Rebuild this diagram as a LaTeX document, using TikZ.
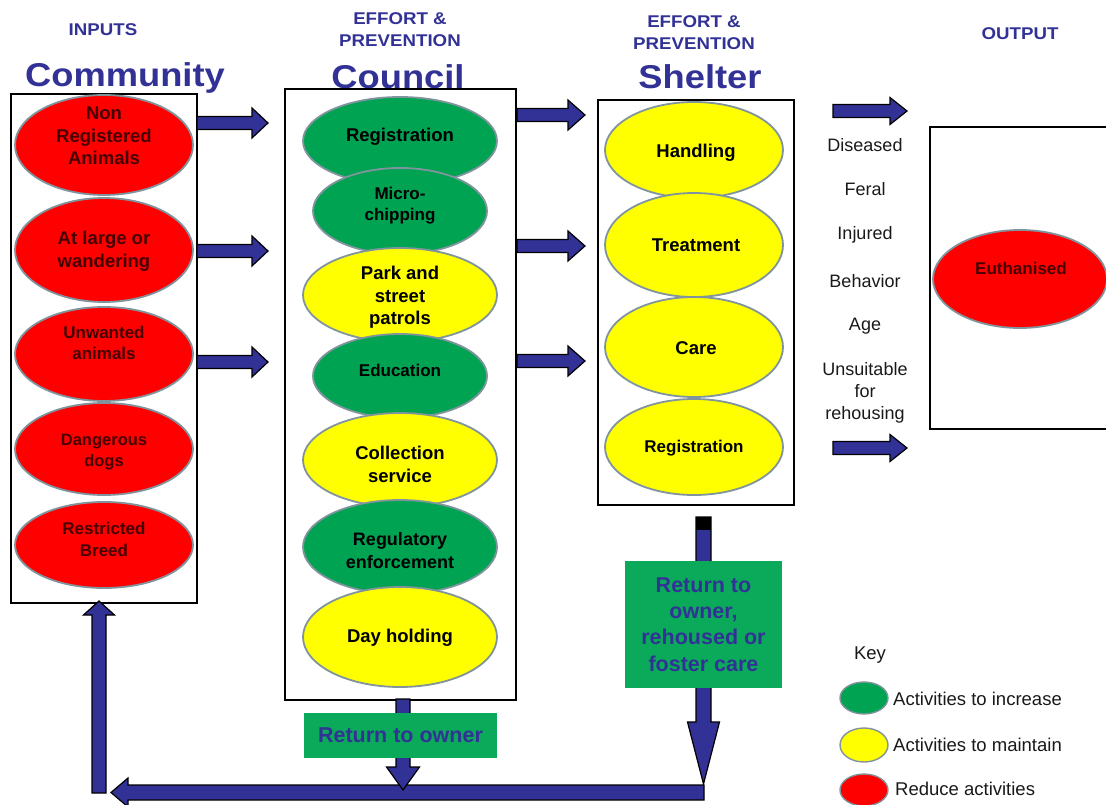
\documentclass[tikz,border=0pt]{standalone}
\usepackage{fontspec}
\setmainfont{Liberation Sans}
\newfontfamily\hdrfont[FakeStretch=1.1]{Liberation Sans}
\usetikzlibrary{shapes.geometric,calc}
\definecolor{navyA}{RGB}{50,50,150}
\definecolor{ered}{RGB}{255,0,0}
\definecolor{egreen}{RGB}{0,163,82}
\definecolor{eyellow}{RGB}{255,255,0}
\definecolor{eborder}{RGB}{128,148,158}
\definecolor{boxgreen}{RGB}{10,170,90}
\definecolor{darkred}{RGB}{70,0,0}
\definecolor{txtgray}{RGB}{25,25,25}
% fat block arrows between named coordinates
\newcommand\fatR[5]{\draw[fatarr] let \p1=(#1), \p2=(#2) in
  (\x1,\y1+#3) -- (\x2-#5,\y1+#3) -- (\x2-#5,\y1+#4) -- (\x2,\y1) -- (\x2-#5,\y1-#4) -- (\x2-#5,\y1-#3) -- (\x1,\y1-#3) -- cycle;}
\newcommand\fatL[5]{\draw[fatarr] let \p1=(#1), \p2=(#2) in
  (\x1,\y1+#3) -- (\x2+#5,\y1+#3) -- (\x2+#5,\y1+#4) -- (\x2,\y1) -- (\x2+#5,\y1-#4) -- (\x2+#5,\y1-#3) -- (\x1,\y1-#3) -- cycle;}
\newcommand\fatD[5]{\draw[fatarr] let \p1=(#1), \p2=(#2) in
  (\x1-#3,\y1) -- (\x1-#3,\y2+#5) -- (\x1-#4,\y2+#5) -- (\x1,\y2) -- (\x1+#4,\y2+#5) -- (\x1+#3,\y2+#5) -- (\x1+#3,\y1) -- cycle;}
\newcommand\fatU[5]{\draw[fatarr] let \p1=(#1), \p2=(#2) in
  (\x1-#3,\y1) -- (\x1-#3,\y2-#5) -- (\x1-#4,\y2-#5) -- (\x1,\y2) -- (\x1+#4,\y2-#5) -- (\x1+#3,\y2-#5) -- (\x1+#3,\y1) -- cycle;}
\tikzset{
 ell/.style={ellipse, draw=eborder, line width=1.8pt, inner sep=0pt},
 redE/.style={ell, fill=ered},
 grnE/.style={ell, fill=egreen},
 yelE/.style={ell, fill=eyellow},
 frame/.style={draw=black, line width=2.2pt, fill=white, inner sep=0pt, anchor=north west},
 fatarr/.style={fill=navyA, draw=black, line width=1.2pt, line join=miter},
 hdr/.style={text=navyA, font=\hdrfont\bfseries\fontsize{17}{22}\selectfont, align=center, inner sep=0pt},
 big/.style={text=navyA, font=\hdrfont\bfseries\fontsize{33}{36}\selectfont, anchor=base, inner sep=0pt},
 ctext/.style={font=\bfseries\fontsize{18.5}{22.5}\selectfont, align=center, text=black, inner sep=0pt},
 rtext/.style={ctext, text=darkred},
 otext/.style={font=\fontsize{18}{22}\selectfont, align=center, text=txtgray, inner sep=0pt},
 retbox/.style={fill=boxgreen, inner sep=0pt, text=navyA, font=\bfseries\fontsize{21.5}{26.3}\selectfont, align=center},
 keytext/.style={font=\fontsize{18.5}{22}\selectfont, anchor=west, inner sep=0pt, text=txtgray}
}
\begin{document}
\begin{tikzpicture}[x=1pt,y=-1pt]
\useasboundingbox (0,0) rectangle (1106,805);

% headers
\node[hdr] (hin) at (103,30) {INPUTS};
\node[hdr] (hcou) at (400,30) {EFFORT \&\\PREVENTION};
\node[hdr] (hshe) at (694,32.5) {EFFORT \&\\PREVENTION};
\node[hdr] (hout) at (1020,34) {OUTPUT};
\node[big] (tcom) at (125,87) {Community};
\node[big] (tcou) at (398,88.5) {Council};
\node[big] (tshe) at (700,89) {Shelter};

% frames
\node[frame, minimum width=186, minimum height=509] (comm) at (10,93) {};
\node[frame, minimum width=231, minimum height=611] (coun) at (284,88) {};
\node[frame, minimum width=196, minimum height=405] (shel) at (597,99) {};
\draw[draw=black, line width=2.2pt] (1106,127) -| (930,429) -- (1106,429);

% community ellipses
\node[redE, minimum width=178, minimum height=100] (c1) at (104,145) {};
\node[rtext] at (104,136) {Non\\Registered\\Animals};
\node[redE, minimum width=178, minimum height=104] (c2) at (104,250) {};
\node[rtext, font=\bfseries\fontsize{18.5}{23}\selectfont] at (104,251) {At large or\\wandering};
\node[redE, minimum width=178, minimum height=94] (c3) at (104,354) {};
\node[rtext, font=\bfseries\fontsize{17}{21}\selectfont] at (104,342.5) {Unwanted\\animals};
\node[redE, minimum width=178, minimum height=92] (c4) at (104,449) {};
\node[rtext, font=\bfseries\fontsize{16.5}{21}\selectfont] at (104,452) {Dangerous\\dogs};
\node[redE, minimum width=178, minimum height=86] (c5) at (104,545) {};
\node[rtext, font=\bfseries\fontsize{17}{22}\selectfont] at (104,539) {Restricted\\Breed};

% council ellipses
\node[grnE, minimum width=194, minimum height=88] (k1) at (400,141) {};
\node[ctext] at (400,137) {Registration};
\node[grnE, minimum width=174, minimum height=86] (k2) at (400,211) {};
\node[ctext, font=\bfseries\fontsize{17}{21}\selectfont] at (400,206) {Micro-\\chipping};
\node[yelE, minimum width=194, minimum height=94] (k3) at (400,295) {};
\node[ctext] at (400,297.5) {Park and\\street\\patrols};
\node[grnE, minimum width=174, minimum height=84] (k4) at (400,376) {};
\node[ctext, font=\bfseries\fontsize{17}{20}\selectfont] at (400,370) {Education};
\node[yelE, minimum width=194, minimum height=94] (k5) at (400,460) {};
\node[ctext, font=\bfseries\fontsize{18.5}{23}\selectfont] at (400,464) {Collection\\service};
\node[grnE, minimum width=194, minimum height=94] (k6) at (400,547) {};
\node[ctext, font=\bfseries\fontsize{18}{23}\selectfont] at (400,551) {Regulatory\\enforcement};
\node[yelE, minimum width=194, minimum height=100] (k7) at (400,637) {};
\node[ctext] at (400,638) {Day holding};

% shelter ellipses
\node[yelE, minimum width=178, minimum height=96] (s1) at (694,150) {};
\node[ctext] at (696,153) {Handling};
\node[yelE, minimum width=178, minimum height=104] (s2) at (694,245) {};
\node[ctext] at (696,245) {Treatment};
\node[yelE, minimum width=178, minimum height=100] (s3) at (694,347) {};
\node[ctext] at (696,348) {Care};
\node[yelE, minimum width=178, minimum height=96] (s4) at (694,447) {};
\node[ctext, font=\bfseries\fontsize{17}{20}\selectfont] at (694,448) {Registration};

% output
\node[redE, minimum width=174, minimum height=98] (eu) at (1020,279) {};
\node[rtext, font=\bfseries\fontsize{17}{20}\selectfont] at (1021,268) {Euthanised};
\node[otext] (o1) at (865,145) {Diseased};
\node[otext] (o2) at (865,189) {Feral};
\node[otext] (o3) at (865,235) {Injured};
\node[otext] (o4) at (865,281) {Behavior};
\node[otext] (o5) at (865,326) {Age};
\node[otext] (o6) at (865,392.5) {Unsuitable\\for\\rehousing};

% horizontal arrows
\coordinate (a1s) at (197,123); \coordinate (a1e) at (268,123);
\coordinate (a2s) at (197,251); \coordinate (a2e) at (268,251);
\coordinate (a3s) at (197,362); \coordinate (a3e) at (268,362);
\coordinate (b1s) at (517,115); \coordinate (b1e) at (585,115);
\coordinate (b2s) at (517,246); \coordinate (b2e) at (585,246);
\coordinate (b3s) at (517,361); \coordinate (b3e) at (585,361);
\coordinate (o1s) at (833,111); \coordinate (o1e) at (907,111);
\coordinate (o2s) at (833,448); \coordinate (o2e) at (907,448);
\fatR{a1s}{a1e}{6.5}{15}{16}
\fatR{a2s}{a2e}{6.5}{15}{16}
\fatR{a3s}{a3e}{6.5}{15}{16}
\fatR{b1s}{b1e}{6.5}{15}{17}
\fatR{b2s}{b2e}{6.5}{15}{17}
\fatR{b3s}{b3e}{6.5}{15}{17}
\fatR{o1s}{o1e}{6.5}{13.5}{17}
\fatR{o2s}{o2e}{6.5}{13.5}{17}

% return loop
\coordinate (bars) at (704,792.5); \coordinate (bare) at (111,792.5);
\coordinate (ups) at (99,793); \coordinate (upe) at (99,601);
\coordinate (cds) at (403,699); \coordinate (cde) at (403,790);
\coordinate (sds) at (703.5,517); \coordinate (sde) at (703.5,784);
\fatL{bars}{bare}{7.5}{14.5}{17}
\fatU{ups}{upe}{7}{15.5}{14}
\fatD{cds}{cde}{7}{16.5}{23}
\node[retbox, minimum width=193, minimum height=45] (ret1) at (400.5,735.5) {Return to owner};
\fatD{sds}{sde}{7.5}{16}{62}
\fill[black] (696,517) rectangle (711,530);
\node[retbox, minimum width=157, minimum height=127] (ret2) at (703.5,624.5) {Return to\\owner,\\rehoused or\\foster care};

% key
\node[keytext, anchor=center] (key) at (870,655) {Key};
\node[grnE, minimum width=48, minimum height=32, line width=1.4pt] (kg) at (864,698) {};
\node[yelE, minimum width=48, minimum height=34, line width=1.4pt] (ky) at (864,745) {};
\node[redE, minimum width=48, minimum height=32, line width=1.4pt] (kr) at (864,790) {};
\node[keytext] (kgt) at (893,699) {Activities to increase};
\node[keytext] (kyt) at (893,745) {Activities to maintain};
\node[keytext] (krt) at (895,789) {Reduce activities};
\end{tikzpicture}
\end{document}
